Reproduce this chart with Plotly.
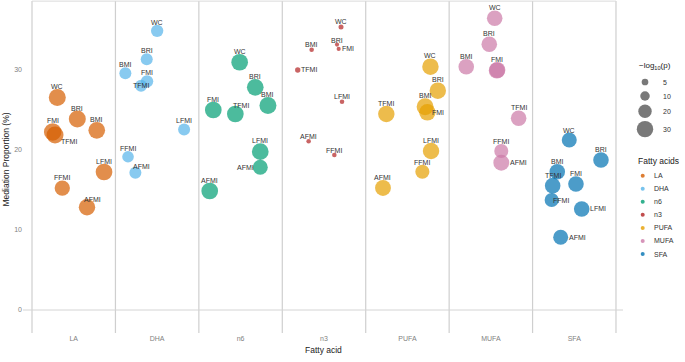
import math
import plotly.graph_objects as go

# ---------------- data ----------------
categories = ["LA", "DHA", "n6", "n3", "PUFA", "MUFA", "SFA"]
colors = ["#D55E00", "#56B4E9", "#009E73", "#B22222", "#E69F00", "#CC79A7", "#0072B2"]

la_labels = ["WC", "BRI", "BMI", "FMI", "TFMI", "LFMI", "FFMI", "AFMI"]
la_prop = [26.5, 23.8, 22.4, 22.2, 21.8, 17.2, 15.2, 12.8]
la_logp = [32, 32, 31, 34, 32, 31, 26, 30]
la_jitter = [-0.197, 0.043, 0.276, -0.252, -0.224, 0.363, -0.137, 0.159]
la_textpos = ["top center", "top center", "top center", "top center",
              "bottom right", "top center", "top center", "top right"]

dha_labels = ["WC", "BRI", "BMI", "FMI", "TFMI", "LFMI", "FFMI", "AFMI"]
dha_prop = [34.8, 31.25, 29.5, 28.5, 27.96, 22.5, 19.1, 17.1]
dha_logp = [17, 16, 16, 17, 16, 16, 15, 16]
dha_jitter = [0.0, -0.125, -0.381, -0.121, -0.193, 0.323, -0.349, -0.261]
dha_textpos = ["top center", "top center", "top center", "top center",
               "middle center", "top center", "top center", "top right"]

n6_labels = ["WC", "BRI", "BMI", "FMI", "TFMI", "LFMI", "AFMI", "AFMI"]
n6_prop = [30.88, 27.76, 25.49, 24.93, 24.43, 19.73, 17.79, 14.83]
n6_logp = [31, 31, 32, 31, 31, 31, 25, 31]
n6_jitter = [-0.011, 0.176, 0.328, -0.327, -0.063, 0.236, 0.236, -0.370]
n6_textpos = ["top center", "top center", "top center", "top center",
              "top right", "top center", "middle left", "top center"]

n3_labels = ["WC", "BRI", "BMI", "FMI", "TFMI", "LFMI", "FFMI", "AFMI"]
n3_prop = [35.28, 33.08, 32.45, 32.54, 29.92, 25.97, 19.32, 21.03]
n3_logp = [2.8, 1.9, 2.3, 1.9, 3.2, 2.3, 2.3, 2.3]
n3_jitter = [0.204, 0.156, -0.148, 0.176, -0.315, 0.216, 0.124, -0.184]
n3_textpos = ["top center", "top center", "top center", "middle right",
              "middle right", "top center", "top center", "top center"]

pufa_labels = ["WC", "BRI", "BMI", "FMI", "TFMI", "LFMI", "FFMI", "AFMI"]
pufa_prop = [30.33, 27.34, 25.34, 24.64, 24.43, 19.82, 17.24, 15.21]
pufa_logp = [30, 30, 32, 30, 30, 30, 22, 28]
pufa_jitter = [0.276, 0.364, 0.212, 0.239, -0.253, 0.283, 0.179, -0.293]
pufa_textpos = ["top center", "top center", "top center", "edge right",
                "top center", "top center", "top center", "top center"]

mufa_labels = ["WC", "BRI", "BMI", "FMI", "TFMI", "", "FFMI", "AFMI"]
mufa_prop = [36.36, 33.12, 30.33, 29.92, 23.9, 29.85, 19.82, 18.36]
mufa_logp = [27, 27, 27, 29, 27, 29, 22, 28]
mufa_jitter = [0.046, -0.019, -0.295, 0.077, 0.333, 0.072, 0.125, 0.125]
mufa_textpos = ["top center", "top center", "top center", "top center",
                "top center", "top center", "top center", "middle right"]

sfa_labels = ["WC", "BRI", "BMI", "FMI", "TFMI", "LFMI", "FFMI", "AFMI"]
sfa_prop = [21.19, 18.7, 17.24, 15.71, 15.5, 12.59, 13.71, 9.06]
sfa_logp = [25, 27, 27, 27, 27, 27, 22, 25]
sfa_jitter = [-0.06, 0.32, -0.204, 0.02, -0.259, 0.089, -0.271, -0.163]
sfa_textpos = ["top center", "top center", "top center", "top center",
               "top center", "middle right", "edge right", "middle right"]

size_breaks = [5, 10, 20, 30]
y_ticks = [0, 10, 20, 30]

groups = [
    (la_labels, la_prop, la_logp, la_jitter, la_textpos),
    (dha_labels, dha_prop, dha_logp, dha_jitter, dha_textpos),
    (n6_labels, n6_prop, n6_logp, n6_jitter, n6_textpos),
    (n3_labels, n3_prop, n3_logp, n3_jitter, n3_textpos),
    (pufa_labels, pufa_prop, pufa_logp, pufa_jitter, pufa_textpos),
    (mufa_labels, mufa_prop, mufa_logp, mufa_jitter, mufa_textpos),
    (sfa_labels, sfa_prop, sfa_logp, sfa_jitter, sfa_textpos),
]

# ---------------- styling / layout constants ----------------
FONT = "Liberation Sans, Arial, sans-serif"
W, H = 685, 362
PLOT_L, PLOT_R = 23, 623          # pixel extent of the main panel
PLOT_T, PLOT_B = 0, 333
X_RANGE = [0.392, 7.584]
Y_RANGE = [-2.867, 38.64]
TOP_Y = 38.5
ALPHA = 0.7
LABEL_COLOR = "#333333"


def size_of(v):
    return 3.0 * math.sqrt(v)


def label_shift(pos, d):
    if pos == "top center":
        return dict(xanchor="center", xshift=0, yshift=d / 2 + 2.5)
    if pos == "top right":
        return dict(xanchor="center", xshift=6, yshift=d / 2)
    if pos == "middle right":
        return dict(xanchor="left", xshift=d / 2 - 1, yshift=0)
    if pos == "edge right":
        return dict(xanchor="center", xshift=d / 2 + 2, yshift=0)
    if pos == "middle left":
        return dict(xanchor="right", xshift=-(d / 2 - 3.7), yshift=0)
    if pos == "bottom right":
        return dict(xanchor="left", xshift=d / 4, yshift=-(d / 2 - 2))
    return dict(xanchor="center", xshift=0, yshift=0)


fig = go.Figure()
annotations = []

for i, (labels, prop, logp, jitter, tpos) in enumerate(groups):
    xs = [i + 1 + j for j in jitter]
    sizes = [size_of(v) for v in logp]
    fig.add_trace(go.Scatter(
        x=xs, y=prop, mode="markers",
        marker=dict(size=sizes, color=colors[i], opacity=ALPHA, line=dict(width=0)),
        showlegend=False, hoverinfo="skip", xaxis="x", yaxis="y"))
    for x, y, lab, d, p in zip(xs, prop, labels, sizes, tpos):
        if not lab:
            continue
        annotations.append(dict(
            x=x, y=y, xref="x", yref="y", text=lab, showarrow=False,
            font=dict(size=7, color=LABEL_COLOR, family=FONT), yanchor="middle",
            **label_shift(p, d)))

# ---------------- custom legend (pixel coordinates on an overlay axis) ----------------
annotations.append(dict(x=637, y=66, xref="x2", yref="y2", text="\u2212log<sub>10</sub>(p)",
                        showarrow=False, xanchor="left", yanchor="middle",
                        font=dict(size=8, color="#222222", family=FONT)))
key_y = 75.0
sl_y = []
prev_h = None
for b in size_breaks:
    d = size_of(b)
    h = max(14.0, d + 3.0)
    c = key_y + h / 2 if prev_h is None else sl_y[-1] + (prev_h + h) / 2
    sl_y.append(c)
    prev_h = h
fig.add_trace(go.Scatter(
    x=[645] * len(size_breaks), y=sl_y, mode="markers",
    marker=dict(size=[size_of(b) for b in size_breaks], color="#404040", line=dict(width=0)),
    showlegend=False, hoverinfo="skip", xaxis="x2", yaxis="y2"))
for b, y in zip(size_breaks, sl_y):
    annotations.append(dict(x=661, y=y, xref="x2", yref="y2", text=str(b), showarrow=False,
                            xanchor="left", yanchor="middle",
                            font=dict(size=7, color=LABEL_COLOR, family=FONT)))

annotations.append(dict(x=636, y=161, xref="x2", yref="y2", text="Fatty acids",
                        showarrow=False, xanchor="left", yanchor="middle",
                        font=dict(size=8.5, color="#222222", family=FONT)))
fa_y = [175.7 + 13.05 * k for k in range(len(categories))]
fig.add_trace(go.Scatter(
    x=[642.7] * len(categories), y=fa_y, mode="markers",
    marker=dict(size=4, color=colors, opacity=0.8, line=dict(width=0)),
    showlegend=False, hoverinfo="skip", xaxis="x2", yaxis="y2"))
for cat, y in zip(categories, fa_y):
    annotations.append(dict(x=652, y=y, xref="x2", yref="y2", text=cat, showarrow=False,
                            xanchor="left", yanchor="middle",
                            font=dict(size=7, color=LABEL_COLOR, family=FONT)))

# axis titles (paper coordinates span the whole figure; margins are zero)
annotations.append(dict(x=323 / W, y=1 - 350 / H, xref="paper", yref="paper",
                        text="Fatty acid", showarrow=False,
                        xanchor="center", yanchor="middle",
                        font=dict(size=8.5, color="#222222", family=FONT)))
annotations.append(dict(x=5.5 / W, y=1 - 160 / H, xref="paper", yref="paper",
                        text="Mediation Proportion (%)", showarrow=False, textangle=-90,
                        xanchor="center", yanchor="middle",
                        font=dict(size=8.5, color="#222222", family=FONT)))

# ---------------- panel lines ----------------
shapes = []
for k in range(len(categories) + 1):
    shapes.append(dict(type="line", xref="x", yref="y", x0=k + 0.5, x1=k + 0.5,
                       y0=Y_RANGE[0], y1=TOP_Y, line=dict(color="#cfcfcf", width=1.2),
                       layer="below"))
shapes.append(dict(type="line", xref="x", yref="y", x0=X_RANGE[0], x1=X_RANGE[1], y0=0, y1=0,
                   line=dict(color="#d4d4d4", width=1), layer="below"))
shapes.append(dict(type="line", xref="x", yref="y", x0=0.5, x1=len(categories) + 0.5,
                   y0=TOP_Y, y1=TOP_Y, line=dict(color="#dadada", width=1), layer="below"))

fig.update_layout(
    width=W, height=H, autosize=False,
    margin=dict(l=0, r=0, t=0, b=0, pad=0),
    paper_bgcolor="white", plot_bgcolor="white",
    font=dict(family=FONT),
    showlegend=False,
    xaxis=dict(domain=[PLOT_L / W, PLOT_R / W], range=X_RANGE, tickmode="array",
               tickvals=list(range(1, len(categories) + 1)), ticktext=categories,
               showgrid=False, zeroline=False, showline=False, ticks="", automargin=False,
               tickfont=dict(size=7, color="#7f7f7f", family=FONT), fixedrange=True,
               anchor="y"),
    yaxis=dict(domain=[1 - PLOT_B / H, 1 - PLOT_T / H], range=Y_RANGE, tickmode="array",
               tickvals=y_ticks, showgrid=False, zeroline=False, showline=False, ticks="",
               automargin=False, tickfont=dict(size=7, color="#7f7f7f", family=FONT),
               fixedrange=True, anchor="x"),
    xaxis2=dict(domain=[PLOT_R / W, 1], range=[PLOT_R, W], anchor="y2", visible=False,
                fixedrange=True),
    yaxis2=dict(domain=[0, 1], range=[H, 0], anchor="x2", visible=False, fixedrange=True),
    shapes=shapes,
    annotations=annotations,
)

fig.write_html(
    "out.html",
    config={"displayModeBar": False},
    post_script="document.body.style.margin='0';document.body.style.overflow='hidden';",
)
